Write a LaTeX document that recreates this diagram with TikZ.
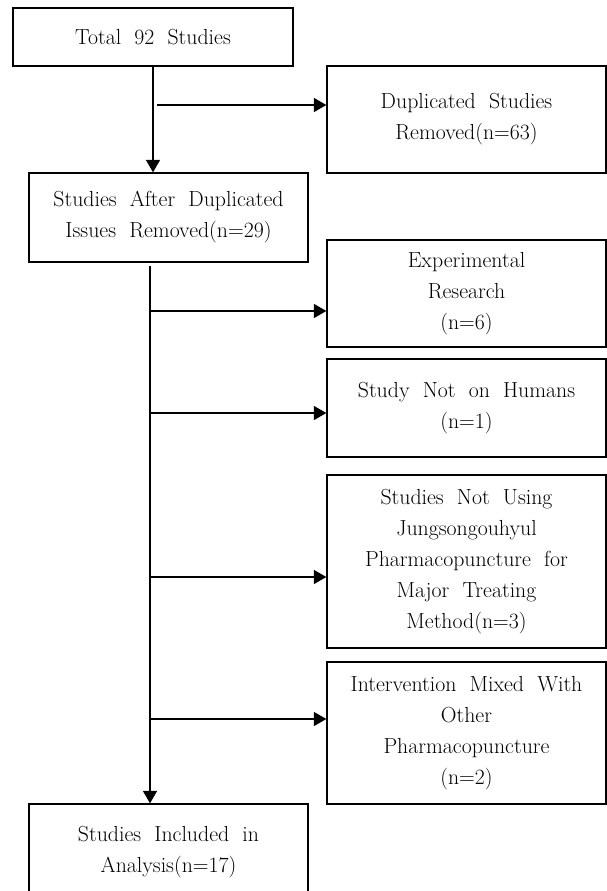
\documentclass[tikz,border=0pt]{standalone}
\usetikzlibrary{arrows.meta}
\begin{document}
\begin{tikzpicture}[x=1pt,y=-1pt,
  box/.style={draw,line width=1.3pt,rectangle,inner sep=0pt,align=center,
    font=\fontsize{21.8}{31}\selectfont},
  arr/.style={line width=1.3pt,-{Triangle[length=12.5pt,width=14pt]}},
  ln/.style={line width=1.3pt}]
\useasboundingbox (0,0) rectangle (607,891);
\node[box,minimum width=280pt,minimum height=58pt] (b1) at (153,37) {Total\ \ 92\ \ Studies};
\node[box,minimum width=279pt,minimum height=107pt] (dup) at (466.5,119.5) {Duplicated\ \ Studies\\Removed(n=63)};
\node[box,minimum width=279pt,minimum height=89pt] (b2) at (168.5,217.5) {Studies\ \ After\ \ Duplicated\\Issues\ \ Removed(n=29)};
\node[box,minimum width=279pt,minimum height=107pt] (exp) at (466.5,293.5) {Experimental\\Research\\(n=6)};
\node[box,minimum width=279pt,minimum height=98pt] (hum) at (466.5,408) {Study\ \ Not\ \ on\ \ Humans\\(n=1)};
\node[box,minimum width=279pt,minimum height=173pt] (nu) at (466.5,561.5) {Studies\ \ Not\ \ Using\\Jungsongouhyul\\Pharmacopuncture\ \ for\\Major\ \ Treating\\Method(n=3)};
\node[box,minimum width=279pt,minimum height=142pt] (iv) at (466.5,733) {Intervention\ \ Mixed\ \ With\\Other\\Pharmacopuncture\\(n=2)};
\node[box,minimum width=279pt,minimum height=96pt] (inc) at (168.5,852) {Studies\ \ Included\ \ in\\Analysis(n=17)};
% connectors
\draw[arr] (b1.south -| 153,0) -- (b2.north -| 153,0);
\coordinate (j0) at (157,105);
\draw[arr] (j0) -- (j0 -| dup.west);
\coordinate (m0) at (150,266);
\draw[arr] (m0) -- (inc.north -| 150,0);
\coordinate (j1) at (150,311);
\coordinate (j2) at (150,413);
\coordinate (j3) at (150,577);
\coordinate (j4) at (150,719);
\draw[arr] (j1) -- (j1 -| exp.west);
\draw[arr] (j2) -- (j2 -| hum.west);
\draw[arr] (j3) -- (j3 -| nu.west);
\draw[arr] (j4) -- (j4 -| iv.west);
\end{tikzpicture}
\end{document}
